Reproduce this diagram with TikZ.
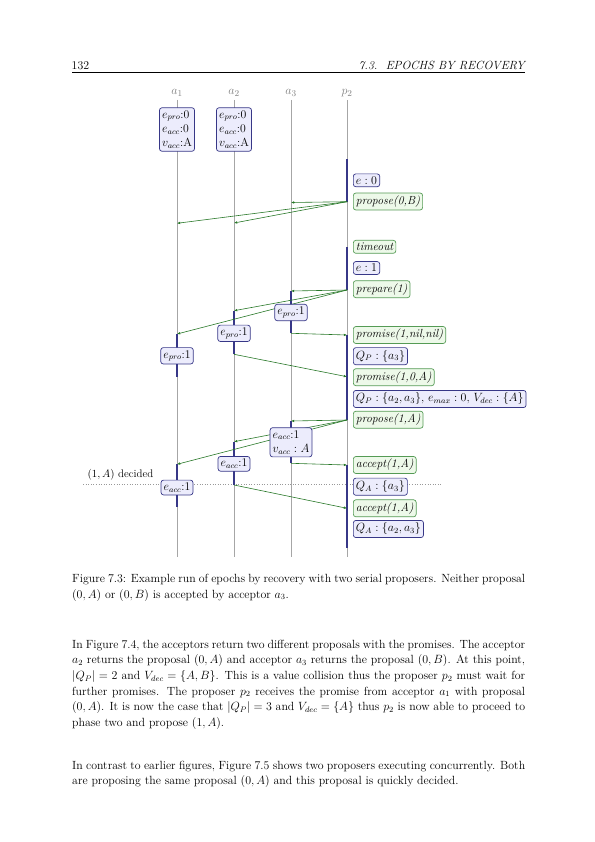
\documentclass[tikz,border=0pt]{standalone}
\usepackage{tikz}
\usetikzlibrary{arrows.meta}
\definecolor{lineblue}{RGB}{55,55,135}
\definecolor{fillblue}{RGB}{236,236,252}
\definecolor{linegreen}{RGB}{85,155,85}
\definecolor{fillgreen}{RGB}{237,249,233}
\definecolor{msggreen}{RGB}{40,120,40}
\newcommand{\bodysize}{\fontsize{11.9}{15.75}\selectfont}
\newcommand{\boxsize}{\fontsize{11.8}{14.4}\selectfont}

\begin{document}
\begin{tikzpicture}[x=1bp,y=-1bp]
%\draw[help lines] (0,0) grid (595,842);
\useasboundingbox[fill=white] (0,0) rectangle (595,842);

\tikzset{
lifeline/.style = {draw=black!35, line width=0.8pt},
activation/.style = {draw=lineblue, line width=1.2pt},
statebox/.style = {draw=lineblue, fill=fillblue, rounded corners=2.5pt, line width=0.7pt, inner sep=2.6pt, font=\boxsize, align=left},
infobox/.style = {statebox, anchor=west},
msgbox/.style = {draw=linegreen, fill=fillgreen, rounded corners=2.5pt, line width=0.7pt, inner sep=2.6pt, anchor=west, font=\boxsize\itshape},
msg/.style = {draw=msggreen, line width=0.6pt, -{Latex[length=3.2pt,width=2.6pt]}},
pagetext/.style = {anchor=base west, inner sep=0, font=\bodysize, text width=453bp, align=justify}
}

\node[anchor=base west, inner sep=0, font=\bodysize] (pagenum) at (71.5,69) {132};
\node[anchor=base east, inner sep=0, font=\bodysize\itshape] (chapter) at (525,69) {7.3.\ \ EPOCHS BY RECOVERY};
\draw[line width=0.5bp] (72,72.7) -- (525,72.7);

\node[font=\fontsize{12.6}{15}\selectfont, text=black!50] (a1) at (177,93) {$a_1$};
\node[font=\fontsize{12.6}{15}\selectfont, text=black!50] (a2) at (234,93) {$a_2$};
\node[font=\fontsize{12.6}{15}\selectfont, text=black!50] (a3) at (291,93) {$a_3$};
\node[font=\fontsize{12.6}{15}\selectfont, text=black!50] (p2) at (347,93) {$p_2$};
\coordinate (a1end) at (177,557);
\coordinate (a2end) at (234,557);
\coordinate (a3end) at (291,557);
\coordinate (p2end) at (347,557);

\node[font=\fontsize{11}{13}\selectfont, anchor=east, inner sep=0] (decided) at (153.5,475) {$(1,A)$ decided};
\coordinate (dotL) at (83,484.3);
\coordinate (dotR) at (442,484.3);
\draw[black!40, dotted, line width=0.6pt] (dotL) -- (dotR);

\draw[lifeline] (a1) -- (a1end);
\draw[lifeline] (a2) -- (a2end);
\draw[lifeline] (a3) -- (a3end);
\draw[lifeline] (p2) -- (p2end);

\coordinate (pa) at (347,159);
\coordinate (pb) at (347,201.7);
\coordinate (pc) at (347,247.3);
\coordinate (pd) at (347,290);
\coordinate (pe) at (347,335);
\coordinate (pr2) at (347,376.7);
\coordinate (pf) at (347,420);
\coordinate (pg) at (347,465);
\coordinate (pr4) at (347,508.3);
\coordinate (ph) at (347,548.3);

\coordinate (a3r1) at (291,202.5);
\coordinate (a3r2) at (291,291);
\coordinate (a3s2) at (291,333.3);
\coordinate (a3r3) at (291,421);
\coordinate (a3s3) at (291,463.3);

\coordinate (a2r1) at (234,223);
\coordinate (a2r2) at (234,310.7);
\coordinate (a2s2) at (234,354.3);
\coordinate (a2r3) at (234,441.7);
\coordinate (a2s3) at (234,485);

\coordinate (a1r1) at (177,223.3);
\coordinate (a1r2) at (177,334);
\coordinate (a1s2) at (177,376.7);
\coordinate (a1r3) at (177,464.3);
\coordinate (a1s3) at (177,507.3);

\draw[activation] (pa) -- (pb);
\draw[activation] (pc) -- (pd);
\draw[activation] (pe) -- (pf);
\draw[activation] (pg) -- (ph);
\draw[activation] (a3r2) -- (a3s2);
\draw[activation] (a3r3) -- (a3s3);
\draw[activation] (a2r2) -- (a2s2);
\draw[activation] (a2r3) -- (a2s3);
\draw[activation] (a1r2) -- (a1s2);
\draw[activation] (a1r3) -- (a1s3);

\draw[msg] (pb) -- (a3r1);
\draw[msg] (pb) -- (a2r1);
\draw[msg] (pb) -- (a1r1);
\draw[msg] (pd) -- (a3r2);
\draw[msg] (pd) -- (a2r2);
\draw[msg] (pd) -- (a1r2);
\draw[msg] (a3s2) -- (pe);
\draw[msg] (a2s2) -- (pr2);
\draw[msg] (pf) -- (a3r3);
\draw[msg] (pf) -- (a2r3);
\draw[msg] (pf) -- (a1r3);
\draw[msg] (a3s3) -- (pg);
\draw[msg] (a2s3) -- (pr4);

\node[statebox] (init1) at (177,129.5) {$e_{pro}$:0\\$e_{acc}$:0\\$v_{acc}$:A};
\node[statebox] (init2) at (234,129.5) {$e_{pro}$:0\\$e_{acc}$:0\\$v_{acc}$:A};
\node[statebox] (pro3) at (291,312.5) {$e_{pro}$:1};
\node[statebox] (pro2) at (234,333.3) {$e_{pro}$:1};
\node[statebox] (pro1) at (177,355.8) {$e_{pro}$:1};
\node[statebox] (acc3) at (291,442.3) {$e_{acc}$:1\\$v_{acc}:A$};
\node[statebox] (acc2) at (234,463.8) {$e_{acc}$:1};
\node[statebox] (acc1) at (177,487.5) {$e_{acc}$:1};

\node[infobox] (e0) at (353,180.3) {$e:0$};
\node[msgbox] (prop0B) at (353,201.5) {propose(0,B)};
\node[msgbox] (tout) at (353,246.8) {timeout};
\node[infobox] (e1) at (353,268) {$e:1$};
\node[msgbox] (prep1) at (353,289.2) {prepare(1)};
\node[msgbox] (prom1) at (353,335) {promise(1,nil,nil)};
\node[infobox] (qp1) at (353,356.2) {$Q_P:\{a_3\}$};
\node[msgbox] (prom2) at (353,377.2) {promise(1,0,A)};
\node[infobox] (qp2) at (353,399) {$Q_P:\{a_2,a_3\}$, $e_{max}:0$, $V_{dec}:\{A\}$};
\node[msgbox] (prop1A) at (353,419.7) {propose(1,A)};
\node[msgbox] (accept1) at (353,465) {accept(1,A)};
\node[infobox] (qa1) at (353,486.7) {$Q_A:\{a_3\}$};
\node[msgbox] (accept2) at (353,508.3) {accept(1,A)};
\node[infobox] (qa2) at (353,529) {$Q_A:\{a_2,a_3\}$};

\node[pagetext] (caption) at (72,582.5) {Figure 7.3: Example run of epochs by recovery with two serial proposers. Neither proposal\linebreak $(0,A)$ or $(0,B)$ is accepted by acceptor $a_3$.};

\node[pagetext] (para1) at (72,648) {In Figure 7.4, the acceptors return two different proposals with the promises. The acceptor\linebreak $a_2$ returns the proposal $(0,A)$ and acceptor $a_3$ returns the proposal $(0,B)$. At this point,\linebreak $|Q_P|=2$ and $V_{dec}=\{A,B\}$. This is a value collision thus the proposer $p_2$ must wait for\linebreak further promises. The proposer $p_2$ receives the promise from acceptor $a_1$ with proposal\linebreak $(0,A)$. It is now the case that $|Q_P|=3$ and $V_{dec}=\{A\}$ thus $p_2$ is now able to proceed to\linebreak phase two and propose $(1,A)$.};

\node[pagetext] (para2) at (72,769) {In contrast to earlier figures, Figure 7.5 shows two proposers executing concurrently. Both\linebreak are proposing the same proposal $(0,A)$ and this proposal is quickly decided.};

\end{tikzpicture}
\end{document}
